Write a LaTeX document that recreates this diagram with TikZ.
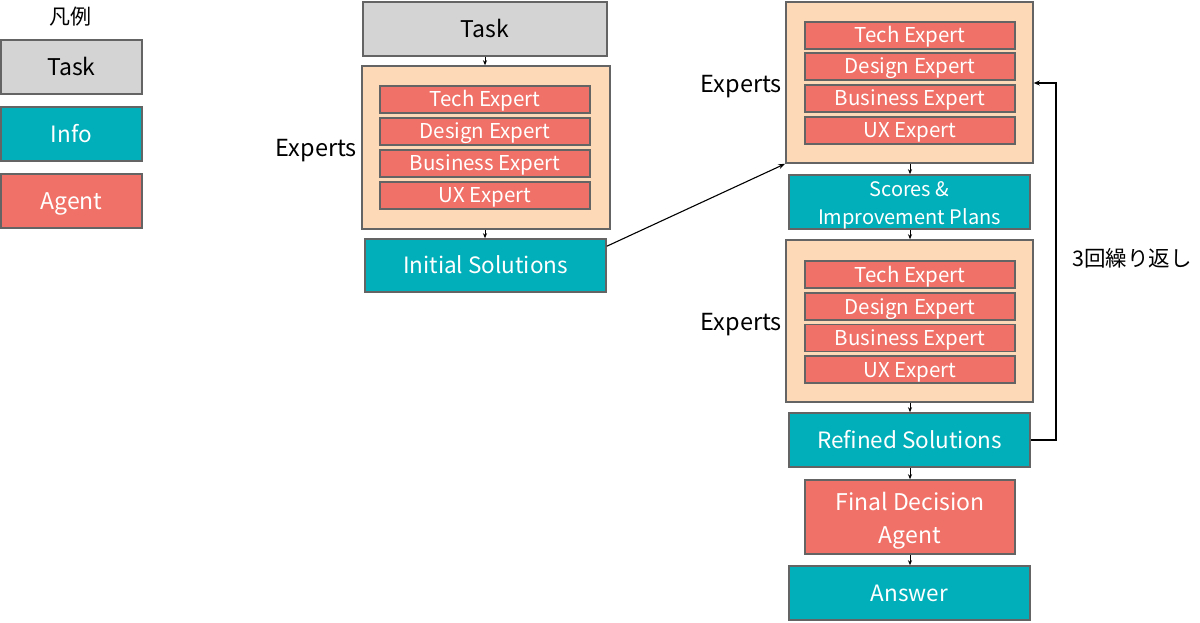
\documentclass[tikz,border=0pt]{standalone}
\usepackage{fontspec}
\setmainfont{Noto Sans CJK JP}
\usetikzlibrary{arrows.meta}
\definecolor{taskc}{RGB}{212,212,212}
\definecolor{infoc}{RGB}{0,175,185}
\definecolor{agentc}{RGB}{240,113,103}
\definecolor{groupc}{RGB}{254,217,183}
\definecolor{edgec}{RGB}{100,100,100}
\tikzset{
  box/.style={draw=edgec, line width=1.5pt, inner sep=0pt, align=center},
  taskbox/.style={box, fill=taskc, text=black, font=\fontsize{23}{26}\selectfont, text height=16.8pt, text depth=0pt},
  infobox/.style={box, fill=infoc, text=white, font=\fontsize{22.5}{26}\selectfont, text height=16.4pt, text depth=0pt},
  agentbox/.style={box, fill=agentc, text=white, font=\fontsize{23}{33}\selectfont, text height=16.8pt, text depth=0pt},
  expbox/.style={box, fill=agentc, text=white, font=\fontsize{20.5}{22}\selectfont, text height=15pt, text depth=0pt},
  groupbox/.style={box, fill=groupc},
  lbl/.style={font=\fontsize{23.5}{26}\selectfont, text=black, text height=17.2pt, text depth=0pt, inner sep=0pt},
  arr/.style={-{Stealth[length=5pt,width=4pt]}, line width=0.8pt, black},
}
\begin{document}
\begin{tikzpicture}[x=1pt,y=-1pt]
\useasboundingbox (0,0) rectangle (1200,623);
% legend
\node[lbl, font=\fontsize{21}{24}\selectfont, text height=18pt] (legtitle) at (70,16) {凡例};
\node[taskbox, minimum width=141pt, minimum height=54pt] (legtask) at (71.5,67) {Task};
\node[infobox, minimum width=141pt, minimum height=54pt] (leginfo) at (71.5,134) {Info};
\node[agentbox, minimum width=141pt, minimum height=54pt] (legagent) at (71.5,201) {Agent};
% left column
\node[taskbox, minimum width=244pt, minimum height=54pt] (task) at (485,29) {Task};
\node[groupbox, minimum width=248pt, minimum height=163pt] (exp0) at (486,147.5) {};
\node[expbox, minimum width=210pt, minimum height=27pt] (t0) at (485,99.5) {Tech Expert};
\node[expbox, minimum width=210pt, minimum height=27pt] (d0) at (485,131.5) {Design Expert};
\node[expbox, minimum width=210pt, minimum height=27pt] (b0) at (485,163.5) {Business Expert};
\node[expbox, minimum width=210pt, minimum height=27pt] (u0) at (485,195.5) {UX Expert};
\node[lbl, anchor=east] (el0) at (357,148) {Experts};
\node[infobox, minimum width=241pt, minimum height=53pt] (init) at (485.5,265.5) {Initial Solutions};
\coordinate (lx) at (485,0);
\draw[arr] (task.south -| lx) -- (exp0.north -| lx);
\draw[arr] (exp0.south -| lx) -- (init.north -| lx);
% right column
\node[groupbox, minimum width=247pt, minimum height=161pt] (exp1) at (909.5,82.5) {};
\node[expbox, minimum width=210pt, minimum height=27pt] (t1) at (910,35.5) {Tech Expert};
\node[expbox, minimum width=210pt, minimum height=27pt] (d1) at (910,66.5) {Design Expert};
\node[expbox, minimum width=210pt, minimum height=27pt] (b1) at (910,98.5) {Business Expert};
\node[expbox, minimum width=210pt, minimum height=27pt] (u1) at (910,130.5) {UX Expert};
\node[lbl, anchor=east] (el1) at (782,84) {Experts};
\node[infobox, minimum width=241pt, minimum height=54pt, font=\fontsize{20}{28}\selectfont, text height=44.6pt, text depth=0pt] (scores) at (909.5,202) {Scores \&\\Improvement Plans};
\node[groupbox, minimum width=247pt, minimum height=162pt] (exp2) at (909.5,321) {};
\node[expbox, minimum width=210pt, minimum height=27pt] (t2) at (910,274.5) {Tech Expert};
\node[expbox, minimum width=210pt, minimum height=27pt] (d2) at (910,306.5) {Design Expert};
\node[expbox, minimum width=210pt, minimum height=27pt] (b2) at (910,338) {Business Expert};
\node[expbox, minimum width=210pt, minimum height=27pt] (u2) at (910,369.5) {UX Expert};
\node[lbl, anchor=east] (el2) at (782,322) {Experts};
\node[infobox, minimum width=241pt, minimum height=54pt] (refined) at (909.5,440) {Refined Solutions};
\node[agentbox, minimum width=210pt, minimum height=74pt, text height=52.8pt, text depth=0pt] (final) at (910,517) {Final Decision\\Agent};
\node[infobox, minimum width=241pt, minimum height=54pt] (answer) at (909.5,593) {Answer};
\node[lbl, anchor=west, font=\fontsize{21.5}{24}\selectfont, text height=17pt] (loop) at (1072,258) {3回繰り返し};
\coordinate (mx) at (910,0);
\draw[arr] (exp1.south -| mx) -- (scores.north -| mx);
\draw[arr] (scores.south -| mx) -- (exp2.north -| mx);
\draw[arr] (exp2.south -| mx) -- (refined.north -| mx);
\draw[arr] (refined.south -| mx) -- (final.north -| mx);
\draw[arr] (final.south -| mx) -- (answer.north -| mx);
% cross arrow
\coordinate (ia) at ([yshift=-8pt]init.north east);
\draw[arr, line width=1.1pt, -{Stealth[length=7pt,width=5pt]}] (ia) -- (exp1.south west);
% loop
\coordinate (lp) at (1056,0);
\draw[arr, line width=1.5pt, -{Stealth[length=6pt,width=5pt]}] (refined.east) -- (refined.east -| lp) -- (lp |- 0,83) -- (exp1.east |- 0,83);
\end{tikzpicture}
\end{document}
